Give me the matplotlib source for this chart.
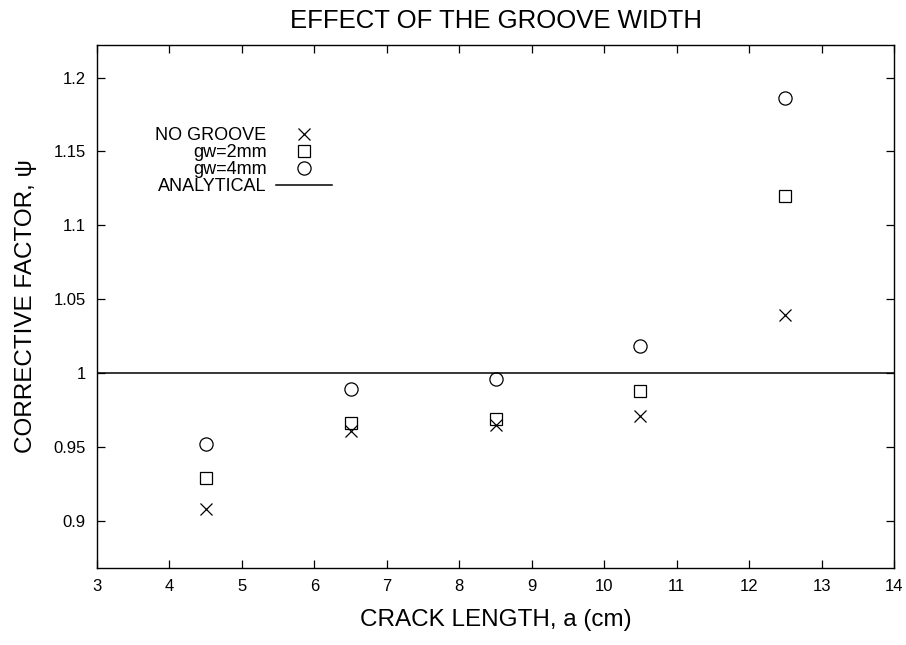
import matplotlib
matplotlib.use("Agg")
import matplotlib.pyplot as plt

plt.rcParams['font.family'] = ['Liberation Sans', 'DejaVu Sans']

crack_length = [4.5, 6.5, 8.5, 10.5, 12.5]
no_groove = [0.908, 0.961, 0.965, 0.971, 1.039]
gw_2mm = [0.929, 0.966, 0.969, 0.988, 1.120]
gw_4mm = [0.952, 0.989, 0.996, 1.018, 1.186]
analytical_x = [3, 14]
analytical_y = [1.0, 1.0]
xticks = list(range(3, 15))
yticks = [0.9, 0.95, 1.0, 1.05, 1.1, 1.15, 1.2]
yticklabels = ['0.9', '0.95', '1', '1.05', '1.1', '1.15', '1.2']

fig = plt.figure(figsize=(9.06, 6.45), dpi=100)
ax = fig.add_axes([97/906, 1-568/645, (894-97)/906, (568-45)/645])

ax.plot(crack_length, no_groove, linestyle='none', marker='x', color='black',
        markersize=9, markeredgewidth=0.9, label='NO GROOVE')
ax.plot(crack_length, gw_2mm, linestyle='none', marker='s', markerfacecolor='none',
        markeredgecolor='black', markersize=8.5, markeredgewidth=0.9, label='gw=2mm')
ax.plot(crack_length, gw_4mm, linestyle='none', marker='o', markerfacecolor='none',
        markeredgecolor='black', markersize=9.5, markeredgewidth=0.9, label='gw=4mm')
ax.plot(analytical_x, analytical_y, color='black', linewidth=1.1, label='ANALYTICAL')

ax.set_xlim(3, 14)
ax.set_ylim(0.868, 1.222)
ax.set_xticks(xticks)
ax.set_xticklabels([str(t) for t in xticks])
ax.set_yticks(yticks)
ax.set_yticklabels(yticklabels)
ax.tick_params(direction='in', top=True, right=True, length=6, width=0.9,
               labelsize=12, pad=8)
for s in ax.spines.values():
    s.set_linewidth(1.0)

ax.set_title('EFFECT OF THE GROOVE WIDTH', fontsize=18.5, pad=12)
ax.set_xlabel('CRACK LENGTH, a (cm)', fontsize=17.5, labelpad=11)
ax.set_ylabel('CORRECTIVE FACTOR, ψ', fontsize=17.5, labelpad=12)

leg = ax.legend(loc='upper left', bbox_to_anchor=(0.062, 0.86), frameon=False,
                markerfirst=False, fontsize=13, labelspacing=0.0,
                handlelength=3.05, handletextpad=0.55, borderpad=0)

fig.savefig('out.png', dpi=100)
